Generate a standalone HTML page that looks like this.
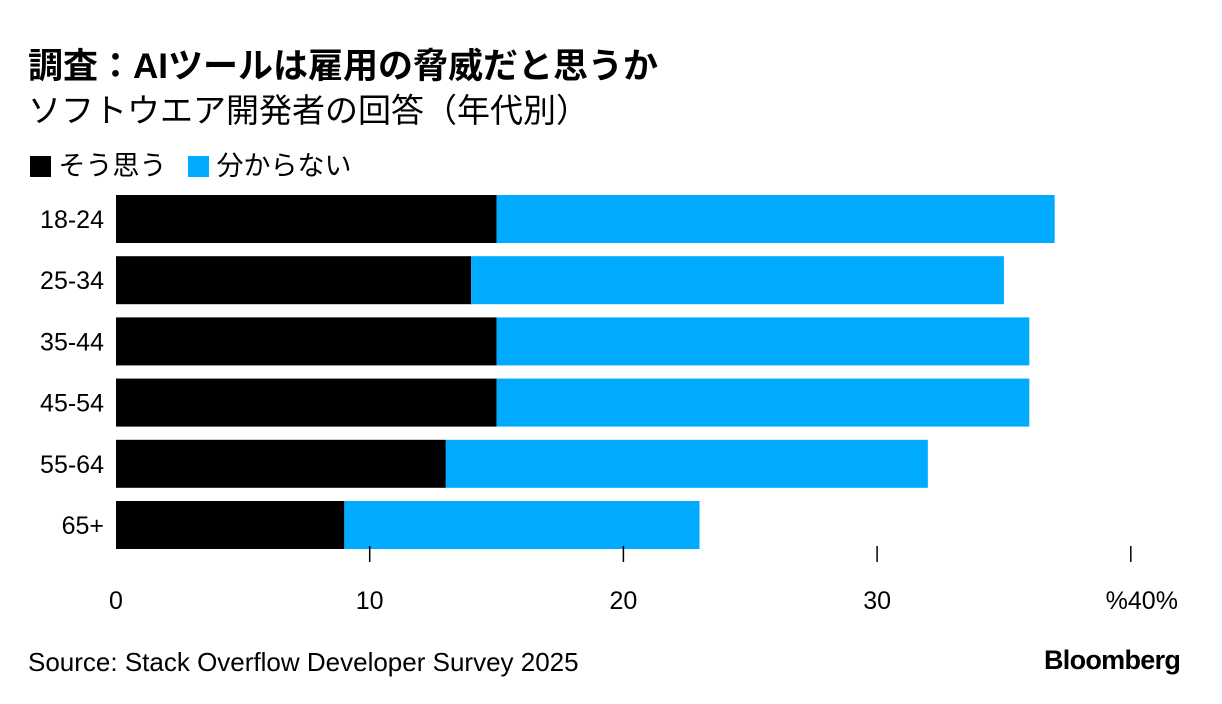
<!DOCTYPE html>
<html><head><meta charset="utf-8">
<style>
body{margin:0;width:1222px;height:704px;background:#fff;font-family:"Liberation Sans","Noto Sans CJK JP",sans-serif;position:relative;overflow:hidden;color:#000}
.t{position:absolute;white-space:nowrap}
</style></head><body>
<div class="t" style="left:28px;top:38px;font-size:35px;font-weight:bold">調査：AIツールは雇用の脅威だと思うか</div>
<div class="t" style="left:28px;top:84px;font-size:33px">ソフトウエア開発者の回答（年代別）</div>
<div class="t" style="left:30px;top:144px;font-size:27px">
<span><span style="display:inline-block;width:21px;height:21px;background:#000;vertical-align:-2px"></span> そう思う</span>
<span style="margin-left:14px"><span style="display:inline-block;width:21px;height:21px;background:#00aaff;vertical-align:-2px"></span> 分からない</span>
</div>
<svg id="chart" width="1222" height="704" style="position:absolute;left:0;top:0"></svg>
<div class="t" style="left:28px;top:647px;font-size:26px">Source: Stack Overflow Developer Survey 2025</div>
<div class="t" style="left:1044px;top:645px;font-size:27px;font-weight:bold;letter-spacing:-0.7px">Bloomberg</div>
<script>
const categories=["18-24","25-34","35-44","45-54","55-64","65+"];
const agree=[15,14,15,15,13,9];
const unsure=[22,21,21,21,19,14];
const ticks=[0,10,20,30,40];
const tickLabels=["0","10","20","30","%40%"];
const svg=document.getElementById('chart');
const NS="http://www.w3.org/2000/svg";
const x=v=>116+v*25.37;
const y=i=>195+i*61.2;
const bh=48;
function mk(t,a){const e=document.createElementNS(NS,t);for(const k in a)e.setAttribute(k,a[k]);svg.appendChild(e);return e;}
categories.forEach((c,i)=>{
 const b1=mk('rect',{x:x(0),y:y(i),width:x(agree[i])-x(0),height:bh,fill:'#000'});
 
 
 const b2=mk('rect',{x:x(agree[i]),y:y(i),width:x(agree[i]+unsure[i])-x(agree[i]),height:bh,fill:'#00aaff'});
 
 
 const l=mk('text',{x:104,y:y(i)+bh/2+9,'text-anchor':'end','font-size':25,fill:'#000'});
 l.textContent=c;
 
 
});
ticks.forEach((t,i)=>{
 if(t>0){const tk=mk('line',{x1:x(t),x2:x(t),y1:546,y2:562,stroke:'#000','stroke-width':1.5});
 
 }
 const tl=mk('text',{x:x(t)+(t===40?11:0),y:609,'text-anchor':'middle','font-size':25,fill:'#000'});
 tl.textContent=tickLabels[i];
 
 
});
</script>
</body></html>
